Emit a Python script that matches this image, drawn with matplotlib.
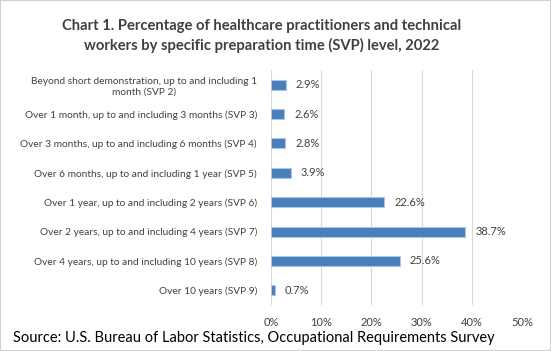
import matplotlib
matplotlib.use("Agg")
import matplotlib.pyplot as plt
from matplotlib.patches import Rectangle

categories = [
    "Beyond short demonstration, up to and including 1\nmonth (SVP 2)",
    "Over 1 month, up to and including 3 months (SVP 3)",
    "Over 3 months, up to and including 6 months (SVP 4)",
    "Over 6 months, up to and including 1 year (SVP 5)",
    "Over 1 year, up to and including 2 years (SVP 6)",
    "Over 2 years, up to and including 4 years (SVP 7)",
    "Over 4 years, up to and including 10 years (SVP 8)",
    "Over 10 years (SVP 9)",
]
values = [2.9, 2.6, 2.8, 3.9, 22.6, 38.7, 25.6, 0.7]
xticks = [0, 10, 20, 30, 40, 50]
xticklabels = ["0%", "10%", "20%", "30%", "40%", "50%"]

plt.rcParams['font.family'] = ['Lato', 'DejaVu Sans']
txt = '#404040'

fig = plt.figure(figsize=(5.51, 3.51), dpi=100)
fig.patches.append(Rectangle((0, 0), 1, 1, transform=fig.transFigure,
                             fill=False, edgecolor='#d0d0d0', linewidth=1.5))
ax = fig.add_axes([271/551, 1-305/351, (522-271)/551, (305-70)/351])

y = list(range(len(categories)))
ax.barh(y, values, height=0.34, color='#4a7ebb', edgecolor='#a9c6e8', linewidth=0.8, zorder=3)
for yi, v in zip(y, values):
    ax.text(v + 2.0, yi, f"{v:.1f}%", va='center', ha='left', fontsize=8, color=txt)

ax.set_xlim(0, 50)
ax.set_ylim(len(categories) - 0.5, -0.5)
ax.set_yticks(y)
ax.set_yticklabels(categories, fontsize=7.3, color=txt, ha='right', multialignment='center')
ax.set_xticks(xticks)
ax.set_xticklabels(xticklabels, fontsize=8, color=txt)
ax.tick_params(axis='both', length=0)
ax.tick_params(axis='y', pad=10)
ax.tick_params(axis='x', pad=9)
ax.grid(axis='x', color='#d9d9d9', linewidth=0.8, zorder=0)
for s in ax.spines.values():
    s.set_visible(False)

fig.text(262/551, 1-36/351, "Chart 1. Percentage of healthcare practitioners and technical\nworkers by specific preparation time (SVP) level, 2022",
         ha='center', va='center', fontsize=10.6, fontweight='bold', color=txt, linespacing=1.45)
fig.text(13/551, 1-338/351, "Source: U.S. Bureau of Labor Statistics, Occupational Requirements Survey",
         ha='left', va='center', fontsize=10.5, color='black')

fig.savefig("out.png", dpi=100)
